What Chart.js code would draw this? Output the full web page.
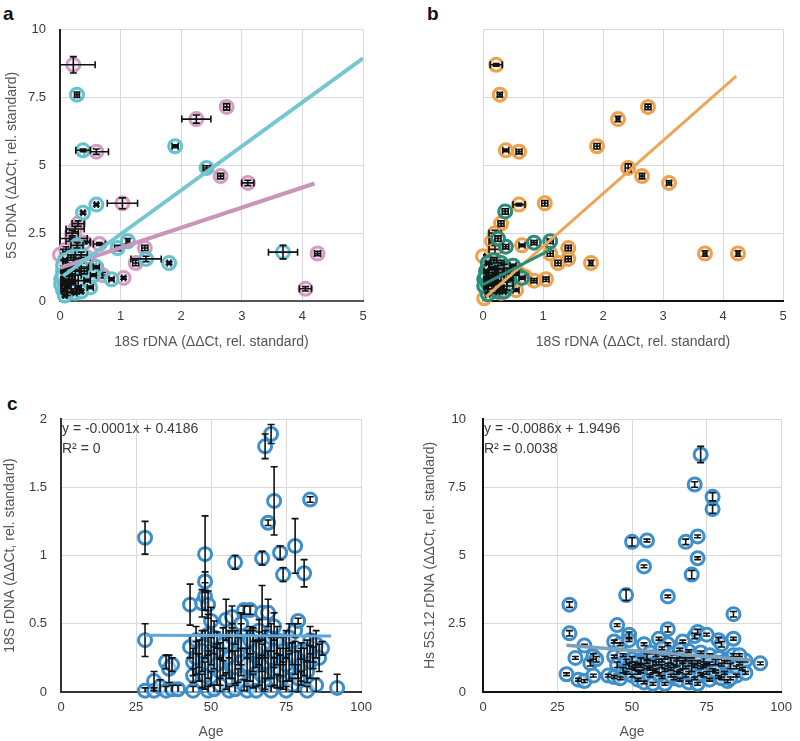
<!DOCTYPE html>
<html>
<head>
<meta charset="utf-8">
<script src="https://cdn.jsdelivr.net/npm/chart.js@4.4.1/dist/chart.umd.min.js"></script>
<style>
body { margin: 0; background: #fff; }
#wrap { position: relative; width: 800px; height: 741px; font-family: "Liberation Sans", Arial, sans-serif; }
canvas { position: absolute; }
.lbl { position: absolute; font-weight: bold; font-size: 19px; line-height: 19px; color: #111; }
</style>
</head>
<body>
<div id="wrap">
  <div class="lbl" style="left:3px;top:4px">a</div>
  <div class="lbl" style="left:427px;top:4px">b</div>
  <div class="lbl" style="left:7px;top:394px">c</div>
  <canvas id="chart_a" style="left:0;top:20px" width="380" height="340"></canvas>
  <canvas id="chart_b" style="left:400px;top:20px" width="400" height="340"></canvas>
  <canvas id="chart_c" style="left:0;top:400px" width="380" height="341"></canvas>
  <canvas id="chart_d" style="left:400px;top:400px" width="400" height="341"></canvas>
</div>
<script>
// points are [x, y, xErr, yErr]  (panels a, b)
const aPink = [
  [0.22,8.7,0.36,0.3],[2.75,7.15,0.05,0.12],[2.25,6.7,0.24,0.15],[0.6,5.5,0.2,0.1],
  [2.65,4.6,0.05,0.1],[3.1,4.35,0.1,0.1],[1.03,3.6,0.25,0.2],[4.25,1.75,0.05,0.08],
  [4.05,0.45,0.1,0.08],[1.4,1.95,0.05,0.1],[1.25,1.4,0.05,0.1],[1.05,0.85,0.03,0.05],
  [0.3,2.85,0.1,0.1],[0.2,2.5,0.1,0.1],[0.0,1.7,0.05,0.05],[0.65,2.1,0.1,0.05],
  [0.55,1.3,0.05,0.05],[0.65,1.0,0.05,0.05],[0.1,1.9,0.2,0.1],[0.25,1.2,0.1,0.1],
  [0.15,0.6,0.05,0.05],[0.35,0.9,0.05,0.05],[0.45,1.6,0.05,0.05],[0.1,1.0,0.05,0.1],
  [0.2,2.3,0.25,0.05],[0.4,2.15,0.1,0.05],[0.1,1.4,0.15,0.15],[0.2,1.8,0.15,0.15],
  [0.3,2.2,0.2,0.1],[0.25,2.65,0.15,0.1],[0.7,0.95,0.1,0.1]
];
const aCyan = [
  [0.28,7.6,0.04,0.1],[0.38,5.55,0.12,0.05],[1.9,5.7,0.05,0.05],[2.42,4.9,0.06,0.08],
  [0.6,3.55,0.03,0.05],[0.38,3.25,0.03,0.05],[3.68,1.8,0.24,0.25],[1.8,1.4,0.03,0.05],
  [1.42,1.55,0.25,0.1],[1.12,2.2,0.03,0.1],[0.95,1.95,0.05,0.1],[0.85,0.8,0.04,0.05],
  [0.5,0.5,0.05,0.05],[0.6,1.25,0.05,0.05],[0.28,2.05,0.1,0.1],[0.35,1.7,0.1,0.1],
  [0.05,0.4,0.03,0.05],[0.1,0.7,0.05,0.05],[0.15,1.3,0.05,0.05],[0.2,0.9,0.05,0.1],
  [0.05,1.1,0.03,0.05],[0.3,0.5,0.05,0.05],[0.4,1.1,0.05,0.1],[0.08,0.2,0.03,0.05],
  [0.18,1.6,0.05,0.1],[0.25,0.3,0.03,0.05],[0.12,0.55,0.03,0.05],[0.02,0.8,0.03,0.05],
  [0.45,0.75,0.05,0.05],[0.3,1.45,0.05,0.1],[0.08,1.5,0.03,0.05],[0.22,0.7,0.03,0.05],
  [0.55,0.95,0.05,0.05],[0.35,0.35,0.03,0.05],[0.02,0.6,0.02,0.05],[0.15,1.0,0.05,0.05],
  [0.05,0.9,0.1,0.2],[0.1,1.2,0.15,0.2],[0.15,0.8,0.1,0.15],[0.2,1.1,0.12,0.2],
  [0.08,0.6,0.1,0.2],[0.12,0.35,0.08,0.15],[0.25,0.95,0.1,0.2],[0.3,0.75,0.1,0.2],
  [0.18,0.45,0.1,0.15],[0.05,1.3,0.08,0.2],[0.35,1.25,0.12,0.15],[0.22,1.4,0.12,0.2]
];
const bOrange = [
  [0.22,8.7,0.1,0.05],[0.28,7.6,0.04,0.08],[2.75,7.15,0.05,0.1],[2.25,6.7,0.03,0.1],
  [0.38,5.55,0.05,0.05],[0.6,5.5,0.05,0.08],[1.9,5.7,0.05,0.1],[2.42,4.9,0.05,0.15],
  [2.65,4.6,0.04,0.1],[3.1,4.35,0.04,0.08],[0.6,3.55,0.1,0.05],[1.03,3.6,0.05,0.1],
  [3.7,1.75,0.03,0.1],[4.25,1.75,0.03,0.1],[1.8,1.4,0.03,0.1],[1.42,1.95,0.05,0.1],
  [1.42,1.55,0.05,0.1],[1.25,1.4,0.05,0.1],[1.05,0.8,0.05,0.08],[0.85,0.75,0.05,0.08],
  [0.3,2.85,0.05,0.1],[0.2,2.5,0.1,0.1],[0.65,2.05,0.05,0.05],[0.55,0.4,0.05,0.05],
  [0.0,1.65,0.03,0.05],[0.02,0.1,0.03,0.05],[0.6,1.0,0.05,0.05],[0.5,1.3,0.05,0.05],
  [0.15,2.2,0.05,0.05],[1.12,1.75,0.05,0.1],[0.7,0.9,0.05,0.05],[0.45,0.6,0.05,0.05],
  [0.1,1.45,0.1,0.15],[0.2,1.9,0.1,0.15],[0.3,0.3,0.08,0.1]
];
const bTeal = [
  [0.37,3.3,0.05,0.1],[0.38,2.0,0.05,0.08],[0.85,2.15,0.05,0.08],[1.12,2.2,0.05,0.08],
  [0.25,2.3,0.05,0.1],[0.05,0.5,0.03,0.05],[0.1,0.8,0.05,0.05],[0.15,1.2,0.05,0.05],
  [0.2,0.9,0.05,0.1],[0.05,1.1,0.03,0.05],[0.3,0.5,0.05,0.05],[0.4,1.1,0.05,0.1],
  [0.08,0.25,0.03,0.05],[0.18,1.5,0.05,0.1],[0.25,0.35,0.03,0.05],[0.12,0.6,0.03,0.05],
  [0.02,0.8,0.03,0.05],[0.45,0.8,0.05,0.05],[0.3,1.4,0.05,0.1],[0.08,1.4,0.03,0.05],
  [0.22,0.7,0.03,0.05],[0.55,1.0,0.05,0.05],[0.35,0.35,0.03,0.05],[0.02,0.55,0.02,0.05],
  [0.5,1.3,0.05,0.05],[0.65,0.85,0.05,0.05],[0.05,0.9,0.1,0.2],[0.1,1.15,0.12,0.2],
  [0.15,0.75,0.1,0.15],[0.2,1.05,0.12,0.2],[0.08,0.65,0.1,0.2],[0.25,0.95,0.1,0.2],
  [0.3,0.7,0.1,0.2],[0.18,0.45,0.1,0.15],[0.35,1.2,0.12,0.15],[0.4,0.55,0.1,0.15]
];

// trend lines: [slope, intercept, xFrom, xTo]
const aPinkFit = [0.74, 1.22, 0, 4.2];
const aCyanFit = [1.62, 0.84, 0.05, 5];
const bOrangeFit = [1.95, 0.05, 0.05, 4.22];
const bTealFit = [1.15, 0.6, 0, 1.15];

// points are [age, value, yErr]  (panel c and the 5S panel)
const cAge18S = [
  [28,1.13,0.12],[28,0.38,0.12],[28,0.01,0.02],[31,0.08,0.07],[31,0.01,0.02],[33,0.04,0.05],
  [35,0.22,0.05],[35,0.01,0.03],[36,0.17,0.1],[37,0.2,0.05],[37,0.02,0.03],[39,0.02,0.03],
  [43,0.64,0.15],[43,0.33,0.08],[44,0.22,0.1],[44,0.12,0.05],[44,0.01,0.03],[45,0.38,0.1],
  [46,0.28,0.1],[46,0.18,0.1],[47,0.65,0.1],[47,0.08,0.05],[48,1.01,0.28],[48,0.81,0.07],
  [48,0.7,0.1],[48,0.35,0.1],[49,0.64,0.1],[49,0.42,0.15],[49,0.2,0.1],[49,0.01,0.03],
  [50,0.52,0.1],[50,0.3,0.1],[50,0.1,0.05],[51,0.25,0.08],[51,0.02,0.03],[52,0.38,0.06],
  [53,0.15,0.1],[53,0.3,0.06],[54,0.22,0.1],[55,0.53,0.15],[55,0.08,0.06],[56,0.35,0.1],
  [56,0.01,0.03],[57,0.55,0.08],[57,0.2,0.1],[58,0.95,0.05],[58,0.4,0.05],[58,0.02,0.03],
  [59,0.3,0.1],[59,0.12,0.05],[60,0.5,0.08],[60,0.22,0.1],[61,0.6,0.03],[61,0.05,0.04],
  [62,0.35,0.1],[62,0.01,0.03],[63,0.6,0.03],[63,0.18,0.1],[64,0.08,0.05],[64,0.42,0.05],
  [65,0.28,0.1],[65,0.01,0.03],[66,0.15,0.1],[66,0.45,0.08],[67,0.98,0.05],[67,0.58,0.2],
  [67,0.25,0.1],[68,1.8,0.09],[68,0.35,0.1],[68,0.05,0.05],[69,1.24,0.02],[69,0.58,0.1],
  [69,0.2,0.1],[70,1.89,0.07],[70,0.4,0.1],[70,0.01,0.03],[71,1.4,0.25],[71,0.48,0.1],
  [71,0.15,0.1],[72,0.3,0.1],[72,0.08,0.05],[73,1.02,0.05],[73,0.22,0.1],[74,0.86,0.05],
  [74,0.12,0.1],[75,0.35,0.1],[75,0.01,0.03],[76,0.18,0.1],[77,0.28,0.08],[77,0.05,0.05],
  [78,1.07,0.2],[78,0.45,0.05],[79,0.52,0.02],[79,0.2,0.1],[80,0.3,0.06],[80,0.1,0.05],
  [81,0.87,0.1],[81,0.22,0.1],[82,0.01,0.03],[82,0.15,0.08],[83,1.41,0.02],[83,0.38,0.1],
  [84,0.32,0.1],[84,0.25,0.08],[85,0.05,0.05],[85,0.35,0.1],[87,0.32,0.05],[92,0.03,0.1],
  [45,0.25,0.12],[47,0.3,0.15],[51,0.4,0.12],[52,0.2,0.15],[54,0.35,0.12],[56,0.25,0.15],
  [58,0.18,0.12],[60,0.35,0.15],[62,0.2,0.12],[64,0.3,0.15],[66,0.32,0.12],[67,0.12,0.15],
  [68,0.22,0.2],[70,0.25,0.15],[72,0.38,0.1],[73,0.15,0.12],[75,0.2,0.12],[76,0.4,0.1],
  [78,0.25,0.12],[80,0.2,0.12],[83,0.22,0.12],[86,0.25,0.1],[48,0.12,0.1],[53,0.05,0.05],
  [57,0.4,0.1],[63,0.38,0.1],[71,0.3,0.12],[74,0.3,0.1],[79,0.1,0.1],[82,0.3,0.08]
];
const dAge5S = [
  [28,0.65,0.05],[29,3.2,0.1],[29,2.15,0.1],[31,1.25,0.05],[32,0.45,0.05],[34,1.7,0.05],
  [34,0.4,0.05],[36,1.05,0.1],[37,1.3,0.1],[37,0.6,0.05],[38,1.2,0.1],[42,0.6,0.05],
  [44,1.85,0.05],[44,1.3,0.05],[44,0.55,0.05],[45,2.45,0.05],[45,1.0,0.1],[46,1.75,0.05],
  [46,0.5,0.05],[47,1.35,0.05],[47,0.8,0.1],[48,3.55,0.2],[48,1.1,0.1],[48,0.7,0.05],
  [49,2.1,0.1],[49,1.9,0.05],[49,0.95,0.1],[50,5.5,0.15],[50,1.2,0.1],[50,0.6,0.05],
  [51,0.85,0.05],[52,1.0,0.05],[52,0.45,0.05],[53,1.15,0.1],[53,0.75,0.05],[54,4.6,0.05],
  [54,1.75,0.05],[54,0.35,0.05],[55,5.55,0.05],[55,1.3,0.1],[55,0.9,0.05],[56,0.6,0.05],
  [57,1.05,0.1],[57,0.3,0.05],[58,1.35,0.05],[58,0.8,0.05],[59,1.95,0.05],[59,1.1,0.1],
  [60,0.55,0.05],[60,0.95,0.05],[61,1.25,0.05],[61,0.3,0.05],[62,3.5,0.05],[62,2.3,0.1],
  [62,1.75,0.05],[63,0.85,0.05],[63,1.15,0.1],[64,0.5,0.05],[64,1.4,0.05],[65,0.7,0.05],
  [65,1.05,0.1],[66,1.3,0.05],[66,0.45,0.05],[67,1.85,0.05],[67,0.95,0.1],[68,5.5,0.1],
  [68,0.6,0.05],[68,1.2,0.05],[69,0.35,0.05],[69,1.5,0.05],[70,4.3,0.15],[70,0.85,0.1],
  [70,1.1,0.05],[71,7.6,0.1],[71,2.05,0.1],[71,0.5,0.05],[72,5.7,0.05],[72,4.9,0.05],
  [72,2.2,0.1],[72,0.3,0.05],[73,8.7,0.3],[73,1.45,0.05],[73,0.9,0.05],[74,1.2,0.1],
  [74,0.6,0.05],[75,2.1,0.05],[75,1.0,0.05],[76,0.45,0.05],[76,1.35,0.05],[77,7.15,0.15],
  [77,6.7,0.15],[77,0.8,0.05],[78,1.1,0.1],[79,1.9,0.1],[79,0.55,0.05],[80,1.75,0.1],
  [80,1.0,0.05],[81,0.7,0.05],[82,1.2,0.05],[82,0.4,0.05],[83,0.95,0.1],[84,2.85,0.1],
  [84,1.95,0.05],[84,1.35,0.05],[85,0.6,0.05],[86,1.05,0.05],[87,0.85,0.05],[88,1.15,0.05],
  [93,1.05,0.05],[50,0.9,0.05],[51,1.05,0.05],[52,0.7,0.05],[53,0.95,0.05],[55,1.1,0.05],
  [56,0.85,0.05],[57,0.75,0.05],[58,1.05,0.05],[59,0.65,0.05],[60,1.15,0.05],[61,0.8,0.05],
  [62,1.0,0.05],[63,0.6,0.05],[64,0.95,0.05],[65,1.2,0.05],[66,0.75,0.05],[67,1.1,0.05],
  [68,0.9,0.05],[69,0.7,0.05],[70,1.3,0.05],[71,0.95,0.05],[72,1.1,0.05],[73,0.65,0.05],
  [74,0.95,0.05],[75,0.7,0.05],[76,1.05,0.05],[78,0.75,0.05],[79,1.25,0.05],[80,0.5,0.05],
  [81,1.1,0.05],[83,0.5,0.05],[85,0.9,0.05],[86,1.35,0.05],[88,0.7,0.05],[66,1.55,0.05],
  [60,1.6,0.05],[56,1.45,0.05]
];
const cFit = [-0.0001, 0.4186, 28, 90];
const dFit = [-0.0086, 1.9496, 28, 90];
const cEquation = ["y = -0.0001x + 0.4186", "R\u00b2 = 0"];
const dEquation = ["y = -0.0086x + 1.9496", "R\u00b2 = 0.0038"];

const axisTitle18S = "18S rDNA (\u0394\u0394Ct, rel. standard)";
const axisTitle5S = "5S rDNA (\u0394\u0394Ct, rel. standard)";
const axisTitle5S12 = "Hs 5S.12 rDNA (\u0394\u0394Ct, rel. standard)";

const FONT = "'Liberation Sans', Arial, sans-serif";

// draws black error bars right after each dataset
const errorBars = {
    id: 'errorBars',
    afterDatasetDraw(chart, args) {
        const ds = chart.data.datasets[args.index];
        if (!ds.xErr && !ds.yErr) return;
        const xs = chart.scales.x;
        const ys = chart.scales.y;
        const area = chart.chartArea;
        const ctx = chart.ctx;
        const cap = 3.5;
        ctx.save();
        ctx.beginPath();
        ctx.rect(area.left, area.top - 2, area.right - area.left, area.bottom - area.top + 2);
        ctx.clip();
        ctx.strokeStyle = '#111';
        ctx.lineWidth = 1.6;
        ds.data.forEach((p, i) => {
            const px = xs.getPixelForValue(p.x);
            const py = ys.getPixelForValue(p.y);
            ctx.beginPath();
            if (ds.yErr) {
                const y1 = ys.getPixelForValue(p.y - ds.yErr[i]);
                const y2 = ys.getPixelForValue(p.y + ds.yErr[i]);
                ctx.moveTo(px, y1); ctx.lineTo(px, y2);
                ctx.moveTo(px - cap, y1); ctx.lineTo(px + cap, y1);
                ctx.moveTo(px - cap, y2); ctx.lineTo(px + cap, y2);
            }
            if (ds.xErr) {
                const x1 = xs.getPixelForValue(p.x - ds.xErr[i]);
                const x2 = xs.getPixelForValue(p.x + ds.xErr[i]);
                ctx.moveTo(x1, py); ctx.lineTo(x2, py);
                ctx.moveTo(x1, py - cap); ctx.lineTo(x1, py + cap);
                ctx.moveTo(x2, py - cap); ctx.lineTo(x2, py + cap);
            }
            ctx.stroke();
        });
        ctx.restore();
    }
};

// regression equation in the top left corner
const equation = {
    id: 'equation',
    afterDraw(chart, args, opts) {
        if (!opts.lines) return;
        const ctx = chart.ctx;
        ctx.save();
        ctx.font = '14px ' + FONT;
        ctx.fillStyle = '#3a3a3a';
        ctx.textBaseline = 'middle';
        opts.lines.forEach((t, i) => {
            ctx.fillText(t, chart.chartArea.left + 1, chart.chartArea.top + 10 + i * 20);
        });
        ctx.restore();
    }
};

function pointSet(rows, color, fill, hasXErr) {
    return {
        type: 'scatter',
        data: rows.map(r => ({ x: r[0], y: r[1] })),
        xErr: hasXErr ? rows.map(r => r[2]) : null,
        yErr: rows.map(r => hasXErr ? r[3] : r[2]),
        borderColor: color,
        backgroundColor: fill,
        pointRadius: 6.5,
        pointBorderWidth: 3,
        clip: false
    };
}

function fitLine(fit, color, width) {
    return {
        type: 'line',
        data: [
            { x: fit[2], y: fit[0] * fit[2] + fit[1] },
            { x: fit[3], y: fit[0] * fit[3] + fit[1] }
        ],
        borderColor: color,
        borderWidth: width,
        pointRadius: 0,
        fill: false
    };
}

function makeChart(idName, datasets, o) {
    const ct = document.getElementById(idName);
    new Chart(ct, {
        type: 'scatter',
        data: { datasets: datasets },
        plugins: [errorBars, equation],
        options: {
            responsive: false,
            animation: false,
            layout: { padding: o.padding },
            plugins: {
                legend: { display: false },
                tooltip: { enabled: false },
                equation: { lines: o.equation }
            },
            scales: {
                x: {
                    type: 'linear',
                    min: 0, max: o.xMax,
                    ticks: { stepSize: o.xStep, color: '#3a3a3a', font: { size: 13, family: FONT }, padding: 8, maxRotation: 0,
                             callback: (v) => String(v) },
                    grid: { color: '#d9d9d9', drawTicks: false },
                    border: { color: o.xBorder, width: 2 },
                    title: { display: true, text: o.xTitle, color: '#555', font: { size: 14, family: FONT }, padding: o.xTitlePad },
                    afterFit: (s) => { s.height = o.xHeight; }
                },
                y: {
                    min: 0, max: o.yMax,
                    ticks: { stepSize: o.yStep, display: o.yTicks, color: '#3a3a3a', font: { size: 13, family: FONT }, padding: 0,
                             callback: (v) => String(v) },
                    grid: { color: '#d9d9d9', drawTicks: true, tickLength: o.yPad, tickColor: 'rgba(0,0,0,0)' },
                    border: { color: o.yBorder, width: o.yBorder === '#d9d9d9' ? 1 : 2 },
                    title: { display: !!o.yTitle, text: o.yTitle, color: '#555', font: { size: 14, family: FONT }, padding: o.yTitlePad },
                    afterFit: (s) => { s.width = o.yWidth; }
                }
            }
        }
    });
}

const pink = '#d39cc3', cyan = '#63c2ce', orange = '#eea04a', teal = '#2b8b7b', blue = '#3d8fcc';

makeChart("chart_a", [
    fitLine(aCyanFit, '#74c6d1', 4),
    fitLine(aPinkFit, '#c995bb', 4),
    pointSet(aCyan, cyan, 'rgba(222,242,245,0.6)', true),
    pointSet(aPink, pink, 'rgba(243,222,236,0.6)', true)
], { padding: { top: 8, right: 17, left: 0, bottom: 0 }, xMax: 5, xStep: 1, yMax: 10, yStep: 2.5,
     xTitle: axisTitle18S, yTitle: axisTitle5S, xHeight: 59, yWidth: 60, yPad: 14, yTicks: true,
     xTitlePad: { top: 9, bottom: 9 }, yTitlePad: { top: 4, bottom: 4 }, xBorder: '#555', yBorder: '#222' });

makeChart("chart_b", [
    fitLine(bTealFit, teal, 3),
    fitLine(bOrangeFit, '#eca65a', 3),
    pointSet(bTeal, teal, 'rgba(220,238,234,0.6)', true),
    pointSet(bOrange, orange, 'rgba(252,236,215,0.6)', true)
], { padding: { top: 8, right: 17, left: 0, bottom: 0 }, xMax: 5, xStep: 1, yMax: 10, yStep: 2.5,
     xTitle: axisTitle18S, yTitle: '', xHeight: 59, yWidth: 83, yPad: 14, yTicks: false,
     xTitlePad: { top: 9, bottom: 9 }, yTitlePad: { top: 4, bottom: 4 }, xBorder: '#111', yBorder: '#d9d9d9' });

makeChart("chart_c", [
    fitLine(cFit, '#5fa7d9', 3),
    pointSet(cAge18S, blue, 'rgba(255,255,255,0.5)', false)
], { padding: { top: 19, right: 18, left: 0, bottom: 0 }, xMax: 100, xStep: 25, yMax: 2, yStep: 0.5,
     xTitle: 'Age', yTitle: axisTitle18S, xHeight: 49, yWidth: 61, yPad: 14, yTicks: true,
     xTitlePad: { top: 0, bottom: 0 }, yTitlePad: { top: 2, bottom: 2 }, xBorder: '#333', yBorder: '#333', equation: cEquation });

makeChart("chart_d", [
    fitLine(dFit, '#7d9fb8', 3.5),
    pointSet(dAge5S, blue, 'rgba(255,255,255,0.5)', false)
], { padding: { top: 19, right: 17, left: 18, bottom: 0 }, xMax: 100, xStep: 25, yMax: 10, yStep: 2.5,
     xTitle: 'Age', yTitle: axisTitle5S12, xHeight: 49, yWidth: 65, yPad: 17, yTicks: true,
     xTitlePad: { top: 0, bottom: 0 }, yTitlePad: { top: 4, bottom: 4 }, xBorder: '#111', yBorder: '#111', equation: dEquation });
</script>
</body>
</html>
